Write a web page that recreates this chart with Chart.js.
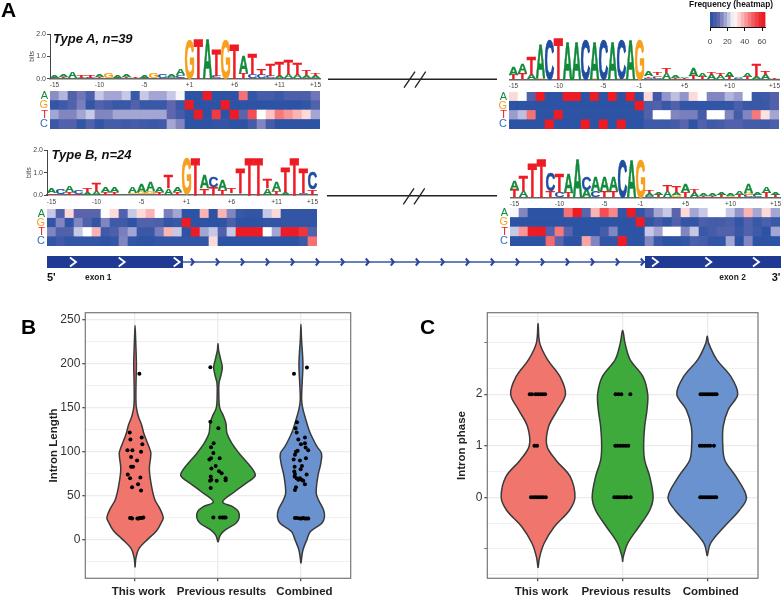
<!DOCTYPE html>
<html>
<head>
<meta charset="utf-8">
<title>Intron features</title>
<script src="https://cdn.jsdelivr.net/npm/chart.js@4"></script>
<style>
  html, body { margin: 0; padding: 0; background: #fff; }
  #page { position: relative; width: 782px; height: 601px; overflow: hidden; }
  #page canvas { position: absolute; }
  #notes { position: absolute; left: 0; top: 0; font-family: "Liberation Sans", sans-serif; }
</style>
</head>
<body>
<div id="page">
<svg id="notes" width="782" height="601"></svg>
</div>
<script>
// ---- data: sites around the splice junctions
const positions = ['-15','-14','-13','-12','-11','-10','-9','-8','-7','-6','-5','-4','-3','-2','-1',
                   '+1','+2','+3','+4','+5','+6','+7','+8','+9','+10','+11','+12','+13','+14','+15'];
const donorTickLabels = ['-15','-10','-5','+1','+6','+11','+15'];
const acceptorTickLabels = ['-15','-10','-5','-1','+5','+10','+15'];
const bases = ['C','T','G','A'];
const baseColors = { A: '#128a3c', G: '#f7a01c', T: '#ed1c24', C: '#2f6fc0' };
const logoColors = { A: '#128a3c', G: '#f7a01c', T: '#ed1c24', C: '#1f4ea1' };

// sequence logos, each site lists letters bottom to top as [base, bits]
const typeADonorLogo = [
  [['T',.05],['A',.1]], [['T',.07],['A',.12]], [['G',.03],['A',.27]], [['A',.05],['T',.09]], [['C',.05],['T',.09]],
  [['T',.06],['A',.1]], [['G',.24]], [['T',.05],['A',.1]], [['T',.06],['A',.13]], [['G',.03],['T',.04]],
  [['T',.05],['A',.1]], [['T',.03],['G',.22]], [['C',.22]], [['C',.08],['A',.13]], [['T',.05],['C',.12],['A',.3]],
  [['G',1.74]], [['T',1.74]], [['A',1.74]], [['C',.12],['T',1.15]], [['G',1.74]],
  [['C',.03],['T',1.5]], [['T',.27],['A',.77]], [['C',.2],['T',.94]], [['C',.18],['T',.29]], [['C',.13],['T',.52]],
  [['A',.12],['T',.62]], [['A',.2],['T',.61]], [['A',.17],['T',.52]], [['A',.15],['T',.2]], [['A',.13],['T',.11]]
];
const typeAAcceptorLogo = [
  [['T',.2],['A',.33]], [['T',.27],['A',.38]], [['A',.2],['T',.8]], [['G',.05],['A',1.5]], [['C',1.77]],
  [['T',1.77]], [['A',1.62]], [['A',1.62]], [['C',1.77]], [['G',.03],['A',1.6]],
  [['C',1.77]], [['A',1.6]], [['T',.05],['C',1.7]], [['A',1.75]], [['G',1.77]],
  [['C',.08],['T',.08],['A',.23]], [['C',.12],['G',.08],['T',.13]], [['A',.28],['T',.22]], [['T',.08],['A',.1]], [['T',.04],['A',.05]],
  [['T',.15],['A',.35]], [['T',.1],['A',.14]], [['A',.2],['T',.12]], [['A',.17],['T',.13]], [['T',.1],['A',.25]],
  [['C',.04],['A',.05]], [['T',.1],['A',.17]], [['A',.13],['T',.52]], [['A',.2],['T',.19]], [['T',.08]]
];
const typeBDonorLogo = [
  [['T',.1],['A',.2]], [['C',.27]], [['T',.12],['A',.28]], [['T',.05],['C',.2]], [['A',.15],['T',.18]],
  [['A',.17],['T',.35]], [['T',.14],['A',.23]], [['T',.12],['A',.21]], [['A',.08]], [['G',.1],['A',.27]],
  [['G',.14],['A',.33]], [['G',.16],['A',.4]], [['T',.12],['A',.25]], [['A',.32],['T',.57]], [['T',.13],['A',.2]],
  [['G',1.63]], [['T',1.63]], [['T',.33],['A',.56]], [['T',.35],['C',.46]], [['T',.22],['A',.45]],
  [['A',.1],['T',.25]], [['A',.08],['T',1.07]], [['T',1.63]], [['T',1.63]], [['A',.3],['T',.4]],
  [['T',.2],['A',.4]], [['A',.15],['T',1.07]], [['T',1.63]], [['C',.1],['T',1.12]], [['T',.25],['C',.75]]
];
const typeBAcceptorLogo = [
  [['T',.34],['A',.4]], [['A',.3],['T',.7]], [['T',1.51]], [['T',1.66]], [['T',.28],['C',.79]],
  [['C',.25],['T',.82]], [['T',.2],['A',.87]], [['A',1.66]], [['A',.32],['C',.6]], [['C',.3],['A',.62]],
  [['T',.3],['A',.66]], [['T',.3],['A',.66]], [['C',1.66]], [['A',1.6]], [['G',1.66]],
  [['C',.08],['A',.1],['T',.12]], [['T',.1],['A',.1]], [['A',.3],['T',.3]], [['G',.1],['A',.12],['T',.3]], [['T',.25],['A',.35]],
  [['A',.2],['T',.16]], [['T',.08],['A',.12]], [['T',.08],['A',.12]], [['T',.1],['A',.12]], [['G',.08],['A',.12]],
  [['T',.1],['A',.15]], [['C',.1],['G',.1],['A',.38]], [['C',.12],['A',.13]], [['T',.2],['A',.27]], [['T',.1],['A',.1]]
];

// heatmap frequencies per base
const typeADonorA = [15,20,8,12,7,22,18,18,22,4,22,18,18,22,27,2,2,60,2,2,2,47,3,6,6,4,7,7,7,12];
const typeADonorG = [3,5,8,13,3,8,6,4,4,8,4,4,4,10,4,60,2,2,2,60,2,2,2,2,2,2,2,2,3,8];
const typeADonorT = [18,14,14,18,22,14,14,18,18,18,18,18,18,10,6,2,60,2,55,2,60,9,52,28,36,46,42,38,33,18];
const typeADonorC = [4,8,8,3,8,3,6,6,5,6,5,4,5,18,14,2,2,2,3,3,2,2,6,14,6,2,2,2,2,2];
const typeAAcceptorA = [33,28,8,60,2,2,60,60,2,60,2,60,2,60,2,33,5,16,21,16,33,28,14,14,20,17,28,4,5,8];
const typeAAcceptorG = [2,2,2,2,2,2,2,2,2,2,2,2,2,2,60,7,8,4,8,3,3,3,3,3,3,7,4,4,4,8];
const typeAAcceptorT = [17,21,47,2,2,60,2,2,2,2,2,2,2,2,2,8,28,28,14,13,13,6,28,28,14,6,14,46,32,18];
const typeAAcceptorC = [2,2,2,2,60,2,2,2,60,2,60,2,60,2,2,5,5,5,6,9,2,8,5,6,8,8,6,6,5,7];
const typeBDonorA = [22,8,33,9,9,9,28,33,8,22,33,38,28,13,18,2,2,38,2,38,14,4,3,3,22,33,3,3,3,3];
const typeBDonorG = [3,14,3,14,8,3,14,5,5,2,8,8,7,3,4,60,2,2,2,2,7,2,2,2,3,3,3,3,3,3];
const typeBDonorT = [14,8,8,22,28,38,5,7,13,18,4,4,13,38,22,2,60,18,22,8,22,60,60,60,28,18,60,60,56,8];
const typeBDonorC = [3,5,3,3,3,3,2,3,14,3,2,2,3,3,3,3,3,3,33,2,2,2,2,2,2,2,2,2,4,47];
const typeBAcceptorA = [27,14,2,2,2,2,47,60,9,38,52,44,3,60,3,9,18,22,9,33,18,22,28,28,22,16,38,18,33,18];
const typeBAcceptorG = [2,2,2,2,2,2,2,2,2,2,2,2,2,2,60,3,6,3,8,3,3,7,6,6,7,3,8,4,7,4];
const typeBAcceptorT = [22,42,60,60,8,46,9,2,2,2,6,14,2,2,2,22,18,28,28,14,22,4,6,8,8,4,8,5,2,18];
const typeBAcceptorC = [2,2,2,2,48,9,2,2,40,14,3,3,60,2,2,14,4,2,2,3,7,6,3,3,18,2,14,2,2,2];
const legendSteps = [2,6,10,14,18,22,26,30,34,38,42,46,50,54,58,62];
const legendTicks = [0,20,40,60];

// violin panels
const groups = ['This work','Previous results','Combined'];
const groupColors = ['#f0756d','#3eaa3b','#6a92cf'];

// outline of each violin: y values with half width (1/250 of a category)
const thisWorkLengthY = [-31.5,-20,-10,0,10,20,25,35,45,60,80,94,100,120,130,140,150,160,180,200,230,243.5];
const thisWorkLengthW = [0,3,12,37,65,80,85,75,60,50,43,47,47,27,20,10,4,2.5,3,4,1.5,0];
const previousLengthY = [-3,5,11,18.6,25,32,37.5,43,55,64,72.5,79,87,98,110,121,132,140,150,165,178,187,196,205,215,223];
const previousLengthW = [0,7,22,54,64,61,44,14,52,84,112,106,89,64,41,27,24,17,5,2.5,3,9,13,8,2,0];
const combinedLengthY = [-27,-12,0,9,18.6,26,34,45,53,72,87,98,106,117,125,140,150,160,180,200,230,245];
const combinedLengthW = [0,6,18,28,63,71,68,53,46,51,60,62,48,33,24,12,5,2,4,6,1.5,0];

const thisWorkPhaseY = [-1.37,-1.15,-.89,-.57,-.25,0,.4,.72,1,1.37,1.7,2,2.34,2.67,2.99,3.37];
const thisWorkPhaseW = [0,5,18,48,93,109,95,53,26,31,58,81,65,28,5,0];
const previousPhaseY = [-1.25,-1.15,-.89,-.57,-.25,0,.4,.72,1,1.37,1.7,2,2.34,2.67,2.99,3.24];
const previousPhaseW = [0,2,15,48,80,90,80,65,62,65,72,74,60,22,7,0];
const combinedPhaseY = [-1.14,-.89,-.57,-.25,0,.4,.72,1,1.37,1.7,2,2.34,2.67,2.99,3.13];
const combinedPhaseW = [0,10,50,95,116,85,52,46,47,62,90,70,28,4,0];

// dots, value with horizontal jitter in category units
const thisWorkLengths = [188.5,121.8,116,113.8,108.5,101.7,101.7,99.8,94,90,82.7,82.7,74,70.6,69.8,63,59.6,55.8,24.5,24.5,24,24,24,24.5,24.5,25];
const thisWorkJitter = [.052,-.064,.08,-.056,.088,-.092,-.032,.072,-.048,.024,-.048,-.024,-.088,.064,-.06,.036,-.036,.072,-.06,-.048,-.036,.028,.044,.06,.08,.1];
const previousLengths = [196,134,126.7,109.6,105,98.6,92.6,92.6,91,83.8,80.8,77.8,75.5,71.7,69.8,68,67.5,66.8,66.8,58.8,25,25,25,25,25];
const previousJitter = [-.092,-.092,.004,-.052,-.084,-.056,-.084,.02,-.104,-.028,-.08,.012,.044,-.088,.092,-.08,.092,-.096,-.016,-.088,-.056,.024,.052,.072,.092];
const combinedLengths = [195.8,188.5,133.5,126.7,121.8,116,113.8,109.6,108.5,104.7,101.7,100.9,99.8,96.4,92.6,91,90,83.8,82.7,80,77.4,74.7,74,71.7,69.8,69.8,68,68,67,63,59.6,56.5,24.7,24.7,24,24,24.7,24,24,24];
const combinedJitter = [.072,-.084,-.048,-.064,-.052,.048,-.032,.048,0,.056,.088,-.04,-.06,-.072,.06,-.088,-.012,.012,-.076,-.004,-.08,-.072,.068,-.076,-.052,-.012,-.032,.008,.028,.048,-.06,-.072,-.072,-.044,-.012,.008,.028,.048,.068,.088];

const thisWorkPhases = [2,2,2,2,2,2,2,1,1,0,0,0,0,0,0,0];
const thisWorkPhaseJitter = [-.098,-.071,-.028,0,.028,.055,.083,-.043,-.012,-.083,-.051,-.024,.004,.031,.059,.091];
const previousPhases = [2,2,2,2,1,1,1,1,1,1,0,0,0,0,0,0,0];
const previousPhaseJitter = [-.083,-.051,-.016,.091,-.087,-.059,-.028,.004,.035,.067,-.098,-.067,-.039,-.008,.024,.051,.094];
const combinedPhases = [2,2,2,2,2,2,2,2,1,1,1,1,1,1,0,0,0,0,0,0,0,0];
const combinedPhaseJitter = [-.079,-.051,-.024,.004,.031,.059,.087,.11,-.087,-.059,-.028,.004,.035,.079,-.083,-.055,-.028,0,.028,.055,.083,.106];

const lengthTicks = [-25,0,25,50,75,100,125,150,175,200,225,250];
const lengthLabels = [0,50,100,150,200,250];
const phaseTicks = [-1.5,-1,-.5,0,.5,1,1.5,2,2.5,3,3.5];
const phaseLabels = [0,1,2];
const phaseMarked = [-1,0,1,2,3];

// ---- setup
Chart.defaults.font.family = '"Liberation Sans", Arial, sans-serif';
Chart.defaults.animation = false;
Chart.defaults.responsive = false;
Chart.defaults.events = [];
Chart.defaults.layout.autoPadding = false;
Chart.defaults.plugins.legend.display = false;
Chart.defaults.plugins.tooltip.enabled = false;

const page = document.getElementById('page');
function addCanvas(left, top, width, height) {
  const c = document.createElement('canvas');
  c.width = width; c.height = height;
  c.style.left = left + 'px'; c.style.top = top + 'px';
  page.insertBefore(c, page.firstChild);
  return c.getContext('2d');
}
// fixed axis sizes, and no margin reserved for half a tick label
function noMargins(axis) {
  axis.paddingTop = axis.paddingBottom = axis.paddingLeft = axis.paddingRight = 0;
}
const fixWidth = size => axis => { axis.width = size; noMargins(axis); };
const fixHeight = size => axis => { axis.height = size; noMargins(axis); };

// heat colour: blue through white to red
const heatStops = [[0,[31,78,161]],[10,[95,102,174]],[20,[180,181,220]],[28,[255,255,255]],[40,[249,165,165]],[50,[243,90,95]],[60,[237,28,36]]];
function heatColor(v) {
  for (let i = 1; i < heatStops.length; i++) {
    if (v <= heatStops[i][0]) {
      const [a, ca] = heatStops[i - 1], [b, cb] = heatStops[i];
      const t = (v - a) / (b - a);
      return 'rgb(' + ca.map((c, k) => Math.round(c + (cb[k] - c) * t)).join(',') + ')';
    }
  }
  return 'rgb(237,28,36)';
}

// draws each base stretched into its (invisible) stacked bar
const logoLetters = {
  id: 'logoLetters',
  afterDatasetsDraw(chart) {
    const ctx = chart.ctx;
    chart.data.datasets.forEach((ds, d) => {
      chart.getDatasetMeta(d).data.forEach((bar, i) => {
        const letter = ds.letters[i];
        const h = bar.base - bar.y;
        if (!letter || h <= 0) return;
        ctx.save();
        ctx.font = 'bold 100px "Liberation Sans", Arial, sans-serif';
        ctx.textBaseline = 'alphabetic';
        ctx.fillStyle = ctx.strokeStyle = logoColors[letter];
        ctx.lineWidth = 2.5;
        const m = ctx.measureText(letter);
        const gw = m.actualBoundingBoxLeft + m.actualBoundingBoxRight;
        const gh = m.actualBoundingBoxAscent + m.actualBoundingBoxDescent;
        ctx.translate(bar.x - bar.width / 2, bar.y);
        ctx.scale(bar.width / gw, h / gh);
        ctx.fillText(letter, m.actualBoundingBoxLeft, m.actualBoundingBoxAscent);
        ctx.strokeText(letter, m.actualBoundingBoxLeft, m.actualBoundingBoxAscent);
        ctx.restore();
      });
    });
  }
};

function drawLogo(logo, tickLabels, plotLeft, baseline, showAxis) {
  const axisRoom = showAxis ? 22 : 0;
  const left = Math.floor(plotLeft - axisRoom), top = Math.floor(baseline - 44.7 - 4);
  const bottom = Math.ceil(baseline + 12);
  const layers = [0, 1, 2].map(k => ({
    data: logo.map(site => site[k] ? site[k][1] : 0),
    letters: logo.map(site => site[k] ? site[k][0] : ''),
    backgroundColor: 'transparent',
    barPercentage: 1,
    categoryPercentage: 1
  }));
  new Chart(addCanvas(left, top, plotLeft + 272 - left, bottom - top), {
    type: 'bar',
    data: { labels: positions, datasets: layers },
    plugins: [logoLetters],
    options: {
      layout: { padding: { top: baseline - 44.7 - top, right: 2, left: 0, bottom: 0 } },
      scales: {
        x: {
          stacked: true,
          afterFit: fixHeight(bottom - baseline),
          grid: { display: false, drawTicks: false },
          border: { color: '#666', width: 1.5 },
          ticks: {
            autoSkip: false, maxRotation: 0, padding: 3, color: '#444', font: { size: 6.5 },
            callback(v, i) { return tickLabels.includes(positions[i]) ? positions[i] : ''; }
          }
        },
        y: {
          stacked: true, min: 0, max: 2, display: showAxis,
          afterFit: fixWidth(axisRoom),
          afterBuildTicks(axis) { axis.ticks = [0, 1, 2].map(value => ({ value })); },
          grid: { drawOnChartArea: false, tickLength: 3, color: '#444' },
          border: { color: '#444' },
          title: { display: true, text: 'bits', font: { size: 7 }, color: '#444', padding: 0 },
          ticks: { color: '#444', font: { size: 7 }, padding: 1, callback: v => v.toFixed(1) }
        }
      }
    }
  });
}

function drawHeat(rows, plotLeft, plotTop, plotHeight) {
  const room = 14;
  new Chart(addCanvas(plotLeft - room, plotTop - 3, 270 + room, plotHeight + 6), {
    type: 'bar',
    data: {
      labels: positions,
      datasets: bases.map(b => ({
        data: rows[b].map(() => 1),
        backgroundColor: rows[b].map(heatColor),
        barPercentage: 1, categoryPercentage: 1, borderWidth: 0
      }))
    },
    options: {
      layout: { padding: { top: 3, bottom: 3, left: 0, right: 0 } },
      scales: {
        x: { stacked: true, display: false },
        y: {
          stacked: true, min: 0, max: 4,
          afterFit: fixWidth(room),
          afterBuildTicks(axis) { axis.ticks = [.5, 1.5, 2.5, 3.5].map(value => ({ value })); },
          grid: { display: false, drawTicks: false }, border: { display: false },
          ticks: {
            autoSkip: false, padding: 2, font: { size: 11 },
            color: c => baseColors[bases[c.index]],
            callback(v, i) { return bases[i]; }
          }
        }
      }
    }
  });
}

drawLogo(typeADonorLogo, donorTickLabels, 50, 78.7, true);
drawLogo(typeAAcceptorLogo, acceptorTickLabels, 509, 79.3, false);
drawLogo(typeBDonorLogo, donorTickLabels, 47, 195, true);
drawLogo(typeBAcceptorLogo, acceptorTickLabels, 510, 197.3, false);
drawHeat({ A: typeADonorA, G: typeADonorG, T: typeADonorT, C: typeADonorC }, 50, 91, 38);
drawHeat({ A: typeAAcceptorA, G: typeAAcceptorG, T: typeAAcceptorT, C: typeAAcceptorC }, 509, 92, 37);
drawHeat({ A: typeBDonorA, G: typeBDonorG, T: typeBDonorT, C: typeBDonorC }, 47, 209, 37);
drawHeat({ A: typeBAcceptorA, G: typeBAcceptorG, T: typeBAcceptorT, C: typeBAcceptorC }, 510, 208, 38);

// heatmap colour key
new Chart(addCanvas(700, 12, 76, 34), {
  type: 'bar',
  data: {
    datasets: [{
      data: legendSteps.map(x => ({ x, y: 1 })),
      backgroundColor: legendSteps.map(heatColor),
      barPercentage: 1, categoryPercentage: 1
    }]
  },
  options: {
    layout: { padding: { left: 10, right: 10.5, top: 0, bottom: 0 } },
    scales: {
      x: {
        type: 'linear', min: 0, max: 64, offset: false,
        afterFit: fixHeight(19),
        afterBuildTicks(axis) { axis.ticks = legendTicks.map(value => ({ value })); },
        grid: { drawOnChartArea: false, tickLength: 4, color: '#111', offset: false },
        border: { color: '#111' },
        ticks: { color: '#444', font: { size: 8 }, padding: 6, maxRotation: 0, autoSkip: false }
      },
      y: { min: 0, max: 1, display: false }
    }
  }
});

// ---- violins
function violinOutline(center, ys, widths) {
  const right = ys.map((y, i) => ({ x: center + widths[i] / 250, y }));
  const left = ys.map((y, i) => ({ x: center - widths[i] / 250, y })).slice(0, -1).reverse();
  return right.concat(left);
}
function dots(center, values, jitter) {
  return values.map((y, i) => ({ x: center + jitter[i], y }));
}
const boxOutline = {
  id: 'boxOutline',
  afterDraw(chart) {
    const { left, top, width, height } = chart.chartArea;
    chart.ctx.save();
    chart.ctx.strokeStyle = '#777';
    chart.ctx.lineWidth = 1.2;
    chart.ctx.strokeRect(left, top, width, height);
    chart.ctx.restore();
  }
};

function drawViolins(o) {
  const dotSets = o.dots.map(([v, j], i) => ({
    data: dots(i + 1, v, j), showLine: false, pointRadius: 2,
    pointBackgroundColor: '#000', pointBorderWidth: 0
  }));
  const shapes = o.shapes.map(([ys, ws], i) => ({
    data: violinOutline(i + 1, ys, ws), showLine: true, fill: 'shape', tension: .35,
    backgroundColor: groupColors[i], borderColor: '#3a3a3a', borderWidth: 1.5, pointRadius: 0
  }));
  new Chart(addCanvas(o.left, 312, o.width, 288), {
    type: 'scatter',
    data: { datasets: dotSets.concat(shapes) },
    plugins: [boxOutline],
    options: {
      layout: { padding: { top: .7, right: o.rightPad, left: 0, bottom: 0 } },
      scales: {
        x: {
          type: 'linear', min: .4, max: 3.6,
          afterFit: fixHeight(21.7),
          afterBuildTicks(axis) { axis.ticks = groups.map((g, i) => ({ value: i + 1 })); },
          grid: { color: '#ececec', lineWidth: 1.3, tickColor: '#555', tickLength: 3 },
          border: { display: false },
          ticks: {
            autoSkip: false, maxRotation: 0, padding: 4, labelOffset: 3.5, color: '#222',
            font: { size: 11.5, weight: 'bold' },
            callback: v => groups[v - 1]
          }
        },
        y: {
          min: o.min, max: o.max,
          afterFit: fixWidth(o.axisRoom),
          afterBuildTicks(axis) { axis.ticks = o.ticks.map(value => ({ value })); },
          grid: {
            color: '#ececec',
            lineWidth: c => o.labels.includes(c.tick.value) ? 1.3 : .8,
            tickColor: c => o.marked.includes(c.tick.value) ? '#555' : 'transparent',
            tickLength: 3
          },
          border: { display: false },
          title: { display: true, text: o.title, color: '#222', font: { size: 11.5, weight: 'bold' }, padding: 0 },
          ticks: {
            autoSkip: false, padding: 2, color: '#333', font: { size: 12 },
            callback: v => o.labels.includes(v) ? String(v) : ''
          }
        }
      }
    }
  });
}

drawViolins({
  left: 47, width: 305, axisRoom: 38.3, rightPad: 1.3, min: -44, max: 258,
  title: 'Intron Length', ticks: lengthTicks, labels: lengthLabels, marked: lengthLabels,
  shapes: [[thisWorkLengthY, thisWorkLengthW], [previousLengthY, previousLengthW], [combinedLengthY, combinedLengthW]],
  dots: [[thisWorkLengths, thisWorkJitter], [previousLengths, previousJitter], [combinedLengths, combinedJitter]]
});
drawViolins({
  left: 455, width: 304, axisRoom: 32.3, rightPad: 1, min: -1.57, max: 3.58,
  title: 'Intron phase', ticks: phaseTicks, labels: phaseLabels, marked: phaseMarked,
  shapes: [[thisWorkPhaseY, thisWorkPhaseW], [previousPhaseY, previousPhaseW], [combinedPhaseY, combinedPhaseW]],
  dots: [[thisWorkPhases, thisWorkPhaseJitter], [previousPhases, previousPhaseJitter], [combinedPhases, combinedPhaseJitter]]
});

// ---- labels and gene diagram
const notes = [];
function text(x, y, size, str, extra) {
  notes.push(`<text x="${x}" y="${y}" font-size="${size}" ${extra || ''}>${str}</text>`);
}
function line(x1, y1, x2, y2, color, w) {
  notes.push(`<line x1="${x1}" y1="${y1}" x2="${x2}" y2="${y2}" stroke="${color}" stroke-width="${w}"/>`);
}
function chevron(x, y, dx, dy, color, w) {
  notes.push(`<polyline points="${x - dx},${y - dy} ${x + dx},${y} ${x - dx},${y + dy}" fill="none" stroke="${color}" stroke-width="${w}"/>`);
}
text(1, 17, 21, 'A', 'font-weight="bold"');
text(21, 334, 21, 'B', 'font-weight="bold"');
text(420, 334, 21, 'C', 'font-weight="bold"');
text(53, 43.3, 13, 'Type A, n=39', 'font-weight="bold" font-style="italic" fill="#111"');
text(51.5, 159.3, 13, 'Type B, n=24', 'font-weight="bold" font-style="italic" fill="#111"');
text(773, 7, 8.3, 'Frequency (heatmap)', 'font-weight="bold" text-anchor="end" fill="#111"');

line(328, 79.3, 497, 79.3, '#222', 1.4);
line(404, 87.7, 415, 71.7, '#222', 1.3);
line(415, 87.7, 425.7, 71.7, '#222', 1.3);
line(327, 195.7, 497, 195.7, '#222', 1.4);
line(403.3, 204.3, 414, 188.3, '#222', 1.3);
line(414, 204.3, 424.7, 188.3, '#222', 1.3);

line(183, 262, 645, 262, '#3a55a5', 1.5);
notes.push('<rect x="47" y="256" width="136" height="12" fill="#1f3a93"/>');
notes.push('<rect x="645" y="256" width="136" height="12" fill="#1f3a93"/>');
[73, 121.7, 176.7, 655, 708.3, 756].forEach(x => chevron(x, 262, 3, 4.5, '#fff', 1.8));
for (let x = 192.3; x < 645; x += 25) chevron(x, 262, 1.5, 3.5, '#2b459b', 2);
text(47, 280.7, 11, "5'", 'font-weight="bold" fill="#111"');
text(85, 280, 8.4, 'exon 1', 'font-weight="bold" fill="#222"');
text(719.3, 280, 8.4, 'exon 2', 'font-weight="bold" fill="#222"');
text(771.7, 280.7, 11, "3'", 'font-weight="bold" fill="#111"');
document.getElementById('notes').innerHTML = notes.join('');
</script>
</body>
</html>
